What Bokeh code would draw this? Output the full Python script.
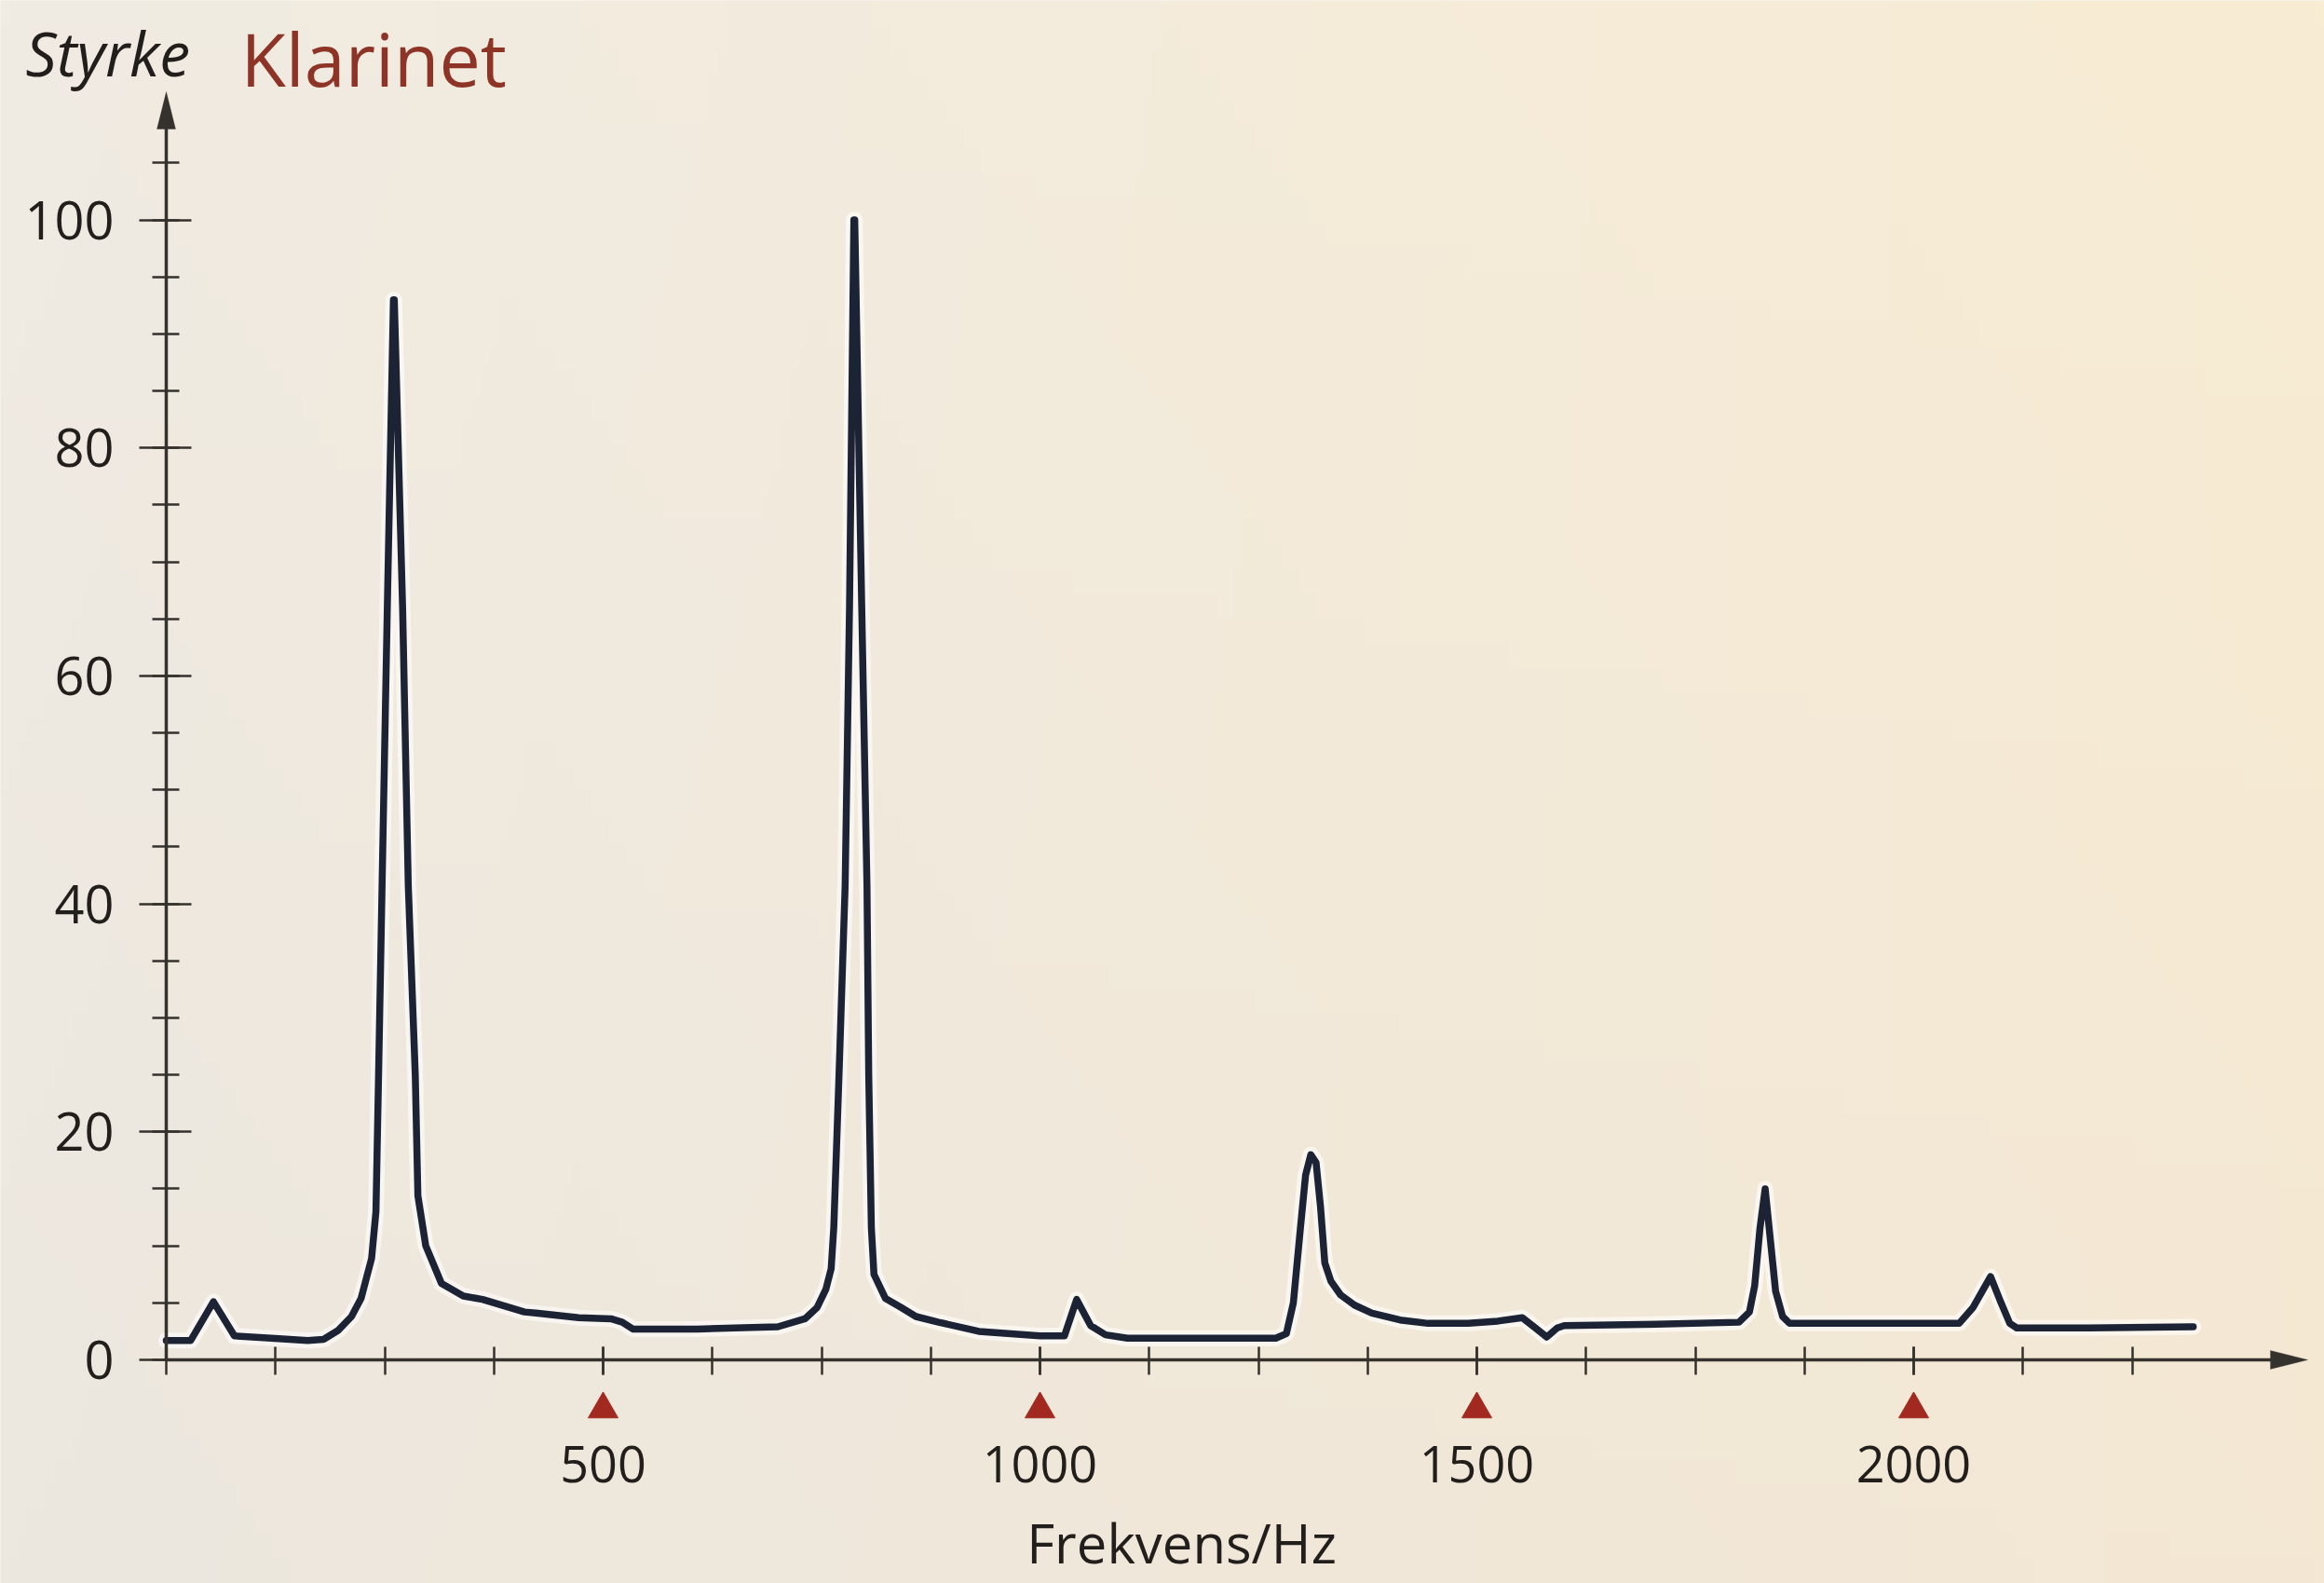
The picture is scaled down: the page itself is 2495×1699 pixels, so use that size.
import numpy as np
from bokeh.plotting import figure
from bokeh.models import Range1d, FixedTicker, Label, PolyAnnotation
from bokeh.embed import file_html
from bokeh.resources import INLINE

# Klarinet spectrum: frequency (Hz) and strength
freq_hz = [0, 28, 54, 78, 120, 162, 180, 197, 212, 223,
           235, 240, 243, 247, 253, 260, 261, 270.5, 277, 285,
           288, 297, 315, 340, 362, 410, 423, 472, 509, 522,
           534, 608, 700, 731, 745, 755, 761, 764, 770, 777,
           782, 787, 788, 796, 802, 804, 807, 810, 823, 841,
           858, 884, 930, 1000, 1028, 1042, 1058, 1075, 1100, 1200,
           1270, 1282, 1290, 1298, 1304, 1310, 1316, 1321, 1326, 1333,
           1344, 1360, 1380, 1412, 1444, 1490, 1524, 1552, 1567, 1580,
           1592, 1600, 1690, 1800, 1812, 1818, 1824, 1830, 1836, 1842,
           1850, 1858, 1950, 2052, 2068, 2088, 2100, 2110, 2118, 2200,
           2320]
strength = [1.7, 1.7, 5.1, 2.1, 1.9, 1.7, 1.8, 2.6, 3.8, 5.4,
            8.9, 13.0, 25.0, 41.6, 66.0, 93.0, 93.0, 66.0, 41.6, 25.0,
            14.4, 10.0, 6.7, 5.6, 5.3, 4.2, 4.1, 3.7, 3.6, 3.3,
            2.7, 2.7, 2.9, 3.6, 4.6, 6.2, 8.0, 11.6, 25.0, 41.6,
            66.0, 100.0, 100.0, 66.0, 41.6, 25.0, 11.6, 7.5, 5.4, 4.6,
            3.8, 3.3, 2.5, 2.1, 2.1, 5.3, 3.0, 2.2, 1.9, 1.9,
            1.9, 2.3, 5.0, 11.5, 16.2, 18.0, 17.3, 13.5, 8.5, 6.9,
            5.7, 4.8, 4.1, 3.5, 3.2, 3.2, 3.4, 3.7, 2.8, 2.0,
            2.8, 3.0, 3.1, 3.3, 4.2, 6.5, 11.5, 15.0, 10.5, 6.0,
            3.8, 3.2, 3.2, 3.2, 4.6, 7.3, 5.0, 3.2, 2.8, 2.8,
            2.9]

y_major_ticks = [0, 20, 40, 60, 80, 100]
y_minor_ticks = list(range(0, 110, 5))
x_major_ticks = [500, 1000, 1500, 2000]
x_minor_ticks = list(range(0, 2251, 125))
marker_freqs = [500, 1000, 1500, 2000]

# canvas geometry
W, H = 2495, 1699
ORIGIN_X = 178          # px from left where 0 Hz sits
ORIGIN_Y = 1459         # px from top where strength 0 sits
PX_PER_HZ = 0.938
PX_PER_UNIT = 12.235

x_start = -ORIGIN_X / PX_PER_HZ
x_end = (W - ORIGIN_X) / PX_PER_HZ
y_start = -(H - ORIGIN_Y) / PX_PER_UNIT
y_end = ORIGIN_Y / PX_PER_UNIT

AXIS_COLOR = "#35312d"
TEXT_COLOR = "#221e1b"
CURVE_COLOR = "#1b2334"
RED = "#a2291f"
FONT = "Open Sans"

p = figure(width=W, height=H, x_range=Range1d(x_start, x_end),
           y_range=Range1d(y_start, y_end), output_backend="svg",
           toolbar_location=None, title=None, min_border=0)
p.min_border_left = p.min_border_right = 0
p.min_border_top = p.min_border_bottom = 0
p.outline_line_color = None
p.grid.visible = False
p.background_fill_color = "#f2eadc"
p.border_fill_color = "#f2eadc"

# paper background: soft grey on the left, warmer on the right
nx, ny = 256, 64
tl = np.array([0xf0, 0xeb, 0xe3], float)
tr = np.array([0xf8, 0xec, 0xd3], float)
bl = np.array([0xec, 0xe7, 0xdf], float)
br = np.array([0xf4, 0xe8, 0xd4], float)
u = np.linspace(0, 1, nx)[None, :, None]
v = np.linspace(0, 1, ny)[:, None, None]   # 0 = bottom row
rgb = (1 - v) * ((1 - u) * bl + u * br) + v * ((1 - u) * tl + u * tr)
img = np.empty((ny, nx), dtype=np.uint32)
view = img.view(dtype=np.uint8).reshape((ny, nx, 4))
view[:, :, :3] = np.clip(rgb, 0, 255).astype(np.uint8)
view[:, :, 3] = 255
bg = p.image_rgba(image=[img], x=x_start, y=y_start,
                  dw=x_end - x_start, dh=y_end - y_start)
bg.level = "image"

# axes sit at the origin inside the frame
x_tip = (2477 - ORIGIN_X) / PX_PER_HZ
y_tip = (ORIGIN_Y - 98) / PX_PER_UNIT
head_len = 40
head_half = 10

xa = p.xaxis[0]
xa.fixed_location = 0
xa.bounds = (0, x_tip - (head_len - 6) / PX_PER_HZ)
xa.ticker = FixedTicker(ticks=x_major_ticks, minor_ticks=x_minor_ticks)
xa.axis_line_color = AXIS_COLOR
xa.axis_line_width = 3.5
xa.major_tick_line_color = AXIS_COLOR
xa.minor_tick_line_color = AXIS_COLOR
xa.major_tick_line_width = 2.5
xa.minor_tick_line_width = 2.5
xa.major_tick_in = 14
xa.major_tick_out = 16
xa.minor_tick_in = 14
xa.minor_tick_out = 16
xa.major_label_text_font = FONT
xa.major_label_text_font_size = "54px"
xa.major_label_text_color = TEXT_COLOR
xa.major_label_standoff = 76

ya = p.yaxis[0]
ya.fixed_location = 0
ya.bounds = (0, y_tip - (head_len - 6) / PX_PER_UNIT)
ya.ticker = FixedTicker(ticks=y_major_ticks, minor_ticks=y_minor_ticks)
ya.axis_line_color = AXIS_COLOR
ya.axis_line_width = 3.5
ya.major_tick_line_color = AXIS_COLOR
ya.minor_tick_line_color = AXIS_COLOR
ya.major_tick_line_width = 2.5
ya.minor_tick_line_width = 2.5
ya.major_tick_in = 27
ya.major_tick_out = 29
ya.minor_tick_in = 14
ya.minor_tick_out = 15
ya.major_label_text_font = FONT
ya.major_label_text_font_size = "56px"
ya.major_label_text_color = TEXT_COLOR
ya.major_label_standoff = 27
ya.major_label_orientation = "horizontal"

# arrow heads at the ends of both axes
p.add_layout(PolyAnnotation(
    xs=[x_tip, x_tip - head_len / PX_PER_HZ, x_tip - head_len / PX_PER_HZ],
    ys=[0, head_half / PX_PER_UNIT, -head_half / PX_PER_UNIT],
    fill_color=AXIS_COLOR, fill_alpha=1, line_color=AXIS_COLOR, line_width=1))
p.add_layout(PolyAnnotation(
    xs=[0, -head_half / PX_PER_HZ, head_half / PX_PER_HZ],
    ys=[y_tip, y_tip - head_len / PX_PER_UNIT, y_tip - head_len / PX_PER_UNIT],
    fill_color=AXIS_COLOR, fill_alpha=1, line_color=AXIS_COLOR, line_width=1))

# spectrum curve with a light halo under it
p.line(freq_hz, strength, line_color="#ffffff", line_alpha=0.6, line_width=17,
       line_join="round", line_cap="round")
p.line(freq_hz, strength, line_color=CURVE_COLOR, line_width=7.5,
       line_join="round", line_cap="round")

# red markers under the labelled frequencies
marker_y = -53 / PX_PER_UNIT
p.scatter(marker_freqs, [marker_y] * len(marker_freqs), marker="triangle",
          size=32, fill_color=RED, line_color=RED)

# texts
p.add_layout(Label(x=(1268 - ORIGIN_X) / PX_PER_HZ, y=-(1655 - ORIGIN_Y) / PX_PER_UNIT,
                   text="Frekvens/Hz", text_font=FONT, text_font_size="58px",
                   text_color=TEXT_COLOR, text_align="center", text_baseline="middle"))
p.add_layout(Label(x=(27 - ORIGIN_X) / PX_PER_HZ, y=(ORIGIN_Y - 55) / PX_PER_UNIT,
                   text="Styrke", text_font=FONT, text_font_style="italic",
                   text_font_size="66px", text_color=TEXT_COLOR,
                   text_align="left", text_baseline="alphabetic"))
p.add_layout(Label(x=(258 - ORIGIN_X) / PX_PER_HZ, y=(ORIGIN_Y - 62) / PX_PER_UNIT,
                   text="Klarinet", text_font=FONT, text_font_size="79px",
                   text_color="#8e3427", text_align="left", text_baseline="alphabetic"))

open("out.html", "w").write(file_html(p, INLINE))
